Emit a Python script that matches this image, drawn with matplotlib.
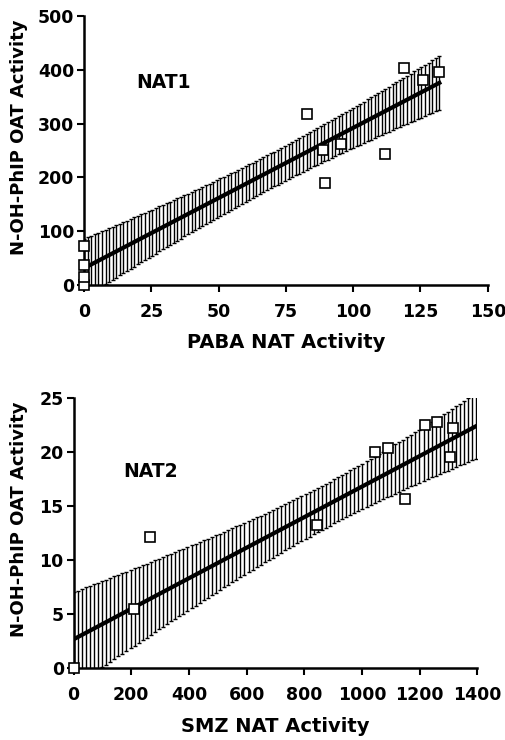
import numpy as np
import matplotlib
matplotlib.use("Agg")
import matplotlib.pyplot as plt

plt.rcParams['font.family'] = ['DejaVu Sans']
plt.rcParams['font.weight'] = 'bold'

# NAT1 panel: PABA NAT activity vs N-OH-PhIP OAT activity
nat1_x = [0, 0, 0, 0, 83, 88.7, 89.7, 95.5, 112, 118.8, 126, 132]
nat1_y = [0, 15, 37, 72, 318, 250, 189, 262, 243.5, 403, 380, 396]
nat1_fit = [31, 2.61]          # intercept, slope
nat1_line_end = 132

# NAT2 panel: SMZ NAT activity vs N-OH-PhIP OAT activity
nat2_x = [0, 210, 265, 843, 1047, 1091, 1151, 1218, 1261, 1314, 1305]
nat2_y = [0, 5.5, 12.1, 13.2, 20.0, 20.4, 15.6, 22.5, 22.8, 22.2, 19.5]
nat2_fit = [2.65, 0.01414]
nat2_line_end = 1397

nat1_xticks = [0, 25, 50, 75, 100, 125, 150]
nat1_yticks = [0, 100, 200, 300, 400, 500]
nat2_xticks = [0, 200, 400, 600, 800, 1000, 1200, 1400]
nat2_yticks = [0, 5, 10, 15, 20, 25]

# t(0.975) for df = n - 2
t_crit = {9: 2.262, 10: 2.228}


def reg_panel(ax, x, y, fit, line_end, xticks, yticks, xlabel, tag, tag_xy, ylab_x):
    x = np.array(x, float)
    y = np.array(y, float)
    n = len(x)
    icpt, slope = fit
    resid = y - (icpt + slope * x)
    s = np.sqrt(np.sum(resid ** 2) / (n - 2))
    sxx = np.sum((x - x.mean()) ** 2)
    xs = np.linspace(0, line_end, 100)
    yfit = icpt + slope * xs
    half = t_crit[n - 2] * s * np.sqrt(1 / n + (xs - x.mean()) ** 2 / sxx)

    ax.errorbar(xs, yfit, yerr=half, fmt='none', ecolor='black',
                elinewidth=1.0, capsize=1.6, capthick=1.0, zorder=2)
    ax.plot(xs, yfit, color='black', lw=3, zorder=3)
    ax.plot(x, y, 's', ms=7, mfc='white', mec='black', mew=1.2,
            clip_on=False, zorder=4)

    ax.set_xlim(xticks[0], xticks[-1])
    ax.set_ylim(yticks[0], yticks[-1])
    ax.set_xticks(xticks)
    ax.set_yticks(yticks)
    for sp in ['top', 'right']:
        ax.spines[sp].set_visible(False)
    for sp in ['left', 'bottom']:
        ax.spines[sp].set_linewidth(1.8)
    ax.tick_params(direction='out', length=5, width=1.5, labelsize=12.5)
    ax.tick_params(axis='x', pad=8)
    ax.tick_params(axis='y', pad=2)
    ax.set_xlabel(xlabel, fontsize=14, fontweight='bold', labelpad=9)
    ax.set_ylabel('N-OH-PhIP OAT Activity', fontsize=13, fontweight='bold')
    ax.yaxis.set_label_coords(ylab_x, 0.55)
    ax.text(tag_xy[0], tag_xy[1], tag, fontsize=13.5, fontweight='bold', va='center')


fig = plt.figure(figsize=(5.06, 7.40), dpi=100)
ax1 = fig.add_axes([0.166, 0.615, 0.798, 0.3635])
ax2 = fig.add_axes([0.1453, 0.0973, 0.798, 0.365])

reg_panel(ax1, nat1_x, nat1_y, nat1_fit, nat1_line_end, nat1_xticks, nat1_yticks,
          'PABA NAT Activity', 'NAT1', (19.5, 377), -0.139)
reg_panel(ax2, nat2_x, nat2_y, nat2_fit, nat2_line_end, nat2_xticks, nat2_yticks,
          'SMZ NAT Activity', 'NAT2', (172, 18.2), -0.113)

fig.savefig('out.png', dpi=100)
